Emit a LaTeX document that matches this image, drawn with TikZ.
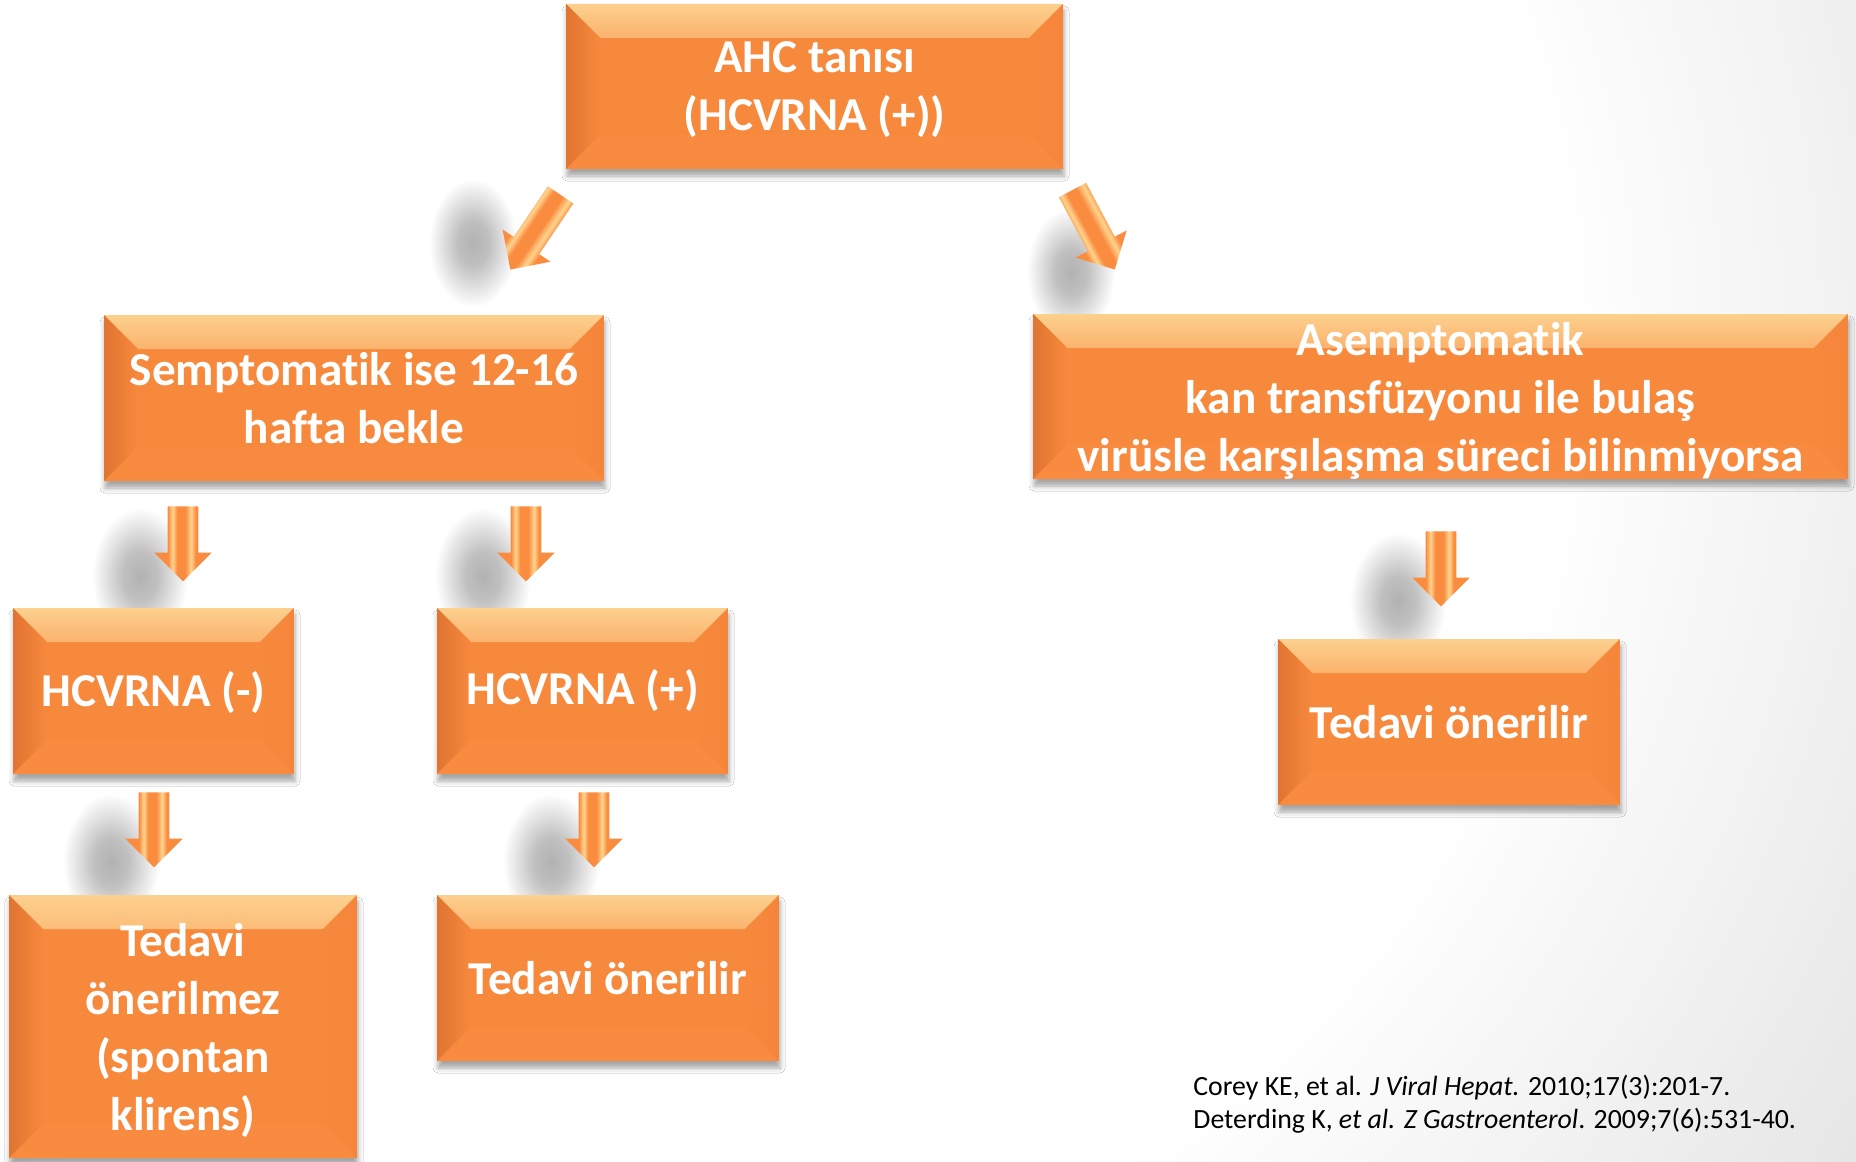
\documentclass[tikz,border=0pt]{standalone}
\usepackage{fontspec}
\setmainfont{Carlito}[Ligatures=NoCommon]
\usetikzlibrary{shapes.arrows,shadows.blur,fadings}

\definecolor{boxorange}{HTML}{F7893D}
\definecolor{bevtop}{HTML}{FDD08E}
\definecolor{bevleft}{HTML}{E07431}
\definecolor{bevright}{HTML}{F4853A}
\definecolor{bevbot}{HTML}{F88B40}
\definecolor{arrorange}{HTML}{FA8C40}
\definecolor{arrlight}{HTML}{FFD48E}

\pgfdeclareradialshading{slidebg}{\pgfpoint{0bp}{0bp}}{color(0bp)=(white); color(16bp)=(white); color(25bp)=(black!10); color(50bp)=(black!10)}
\pgfdeclareverticalshading{toplight}{100bp}{color(0bp)=(boxorange); color(25bp)=(boxorange); color(55bp)=(boxorange!80!bevtop); color(75bp)=(bevtop); color(100bp)=(bevtop)}
\pgfdeclareverticalshading{arrowshade}{100bp}{color(0bp)=(arrorange); color(37bp)=(arrorange); color(41bp)=(arrlight); color(45bp)=(arrorange); color(52bp)=(arrorange); color(57bp)=(arrlight); color(61bp)=(arrorange); color(100bp)=(arrorange)}
\pgfdeclareradialshading{spotshade}{\pgfpoint{0bp}{0bp}}{color(0bp)=(white); color(9bp)=(white!82!black); color(25bp)=(black); color(50bp)=(black)}
\pgfdeclarefading{softspot}{\pgfuseshading{spotshade}}

\newcommand{\boxfont}{\bfseries\fontsize{23.6}{29}\selectfont}
\newcommand{\citefont}{\fontsize{13.9}{16.5}\selectfont}
\newcommand{\bev}{17pt}

\tikzset{
  slidebox/.style={rectangle, fill=boxorange, text=white, font=\boxfont, align=center, inner sep=0pt,
    blur shadow={shadow xshift=0.5pt, shadow yshift=-3.5pt, shadow blur radius=2.5pt, shadow opacity=35},
    path picture={
      \shade[shading=toplight]
        (path picture bounding box.north west) -- (path picture bounding box.north east)
        -- ([xshift=-\bev,yshift=-\bev]path picture bounding box.north east)
        -- ([xshift=\bev,yshift=-\bev]path picture bounding box.north west) -- cycle;
      \shade[left color=bevleft, right color=boxorange]
        (path picture bounding box.north west) -- ([xshift=\bev,yshift=-\bev]path picture bounding box.north west)
        -- ([xshift=\bev,yshift=\bev]path picture bounding box.south west)
        -- (path picture bounding box.south west) -- cycle;
      \shade[left color=boxorange, right color=bevright]
        (path picture bounding box.north east) -- (path picture bounding box.south east)
        -- ([xshift=-\bev,yshift=\bev]path picture bounding box.south east)
        -- ([xshift=-\bev,yshift=-\bev]path picture bounding box.north east) -- cycle;
      \fill[bevbot]
        (path picture bounding box.south west) -- (path picture bounding box.south east)
        -- ([xshift=-\bev,yshift=\bev]path picture bounding box.south east)
        -- ([xshift=\bev,yshift=\bev]path picture bounding box.south west) -- cycle;
    }},
  blockarrow/.style={single arrow, inner xsep=0pt, inner ysep=7.5pt, single arrow head extend=6.75pt,
    shade, shading=arrowshade, anchor=tip},
  arrowshadow/.style={black, opacity=0.3, path fading=softspot}
}

\begin{document}
\begin{tikzpicture}[x=0.5pt, y=-0.5pt]
    \useasboundingbox (0,0) rectangle (1856,1161);

    % slide background
    \begin{scope}
        \clip (0,0) rectangle (1856,1161);
        \shade[shading=slidebg] (600,350) circle (750pt);
    \end{scope}

    % block arrows with their soft shadows
    \foreach \nm/\x/\y/\ang/\len/\sx/\sy/\rx/\ry in {
        adl/510/270/236/45/-37/-27/22/32,
        adr/1115/270/298/45/-44/2/22/32,
        a1/183/582/270/37.5/-43/-6/24/34,
        a2/526/582/270/37.5/-43/-6/24/34,
        a3/154/868/270/37.5/-43/-6/24/34,
        a4/594/868/270/37.5/-43/-6/24/34,
        a5/1441/607/270/37.5/-43/-6/24/34} {
        \fill[arrowshadow] (\x+\sx,\y+\sy) ellipse [x radius=\rx pt, y radius=\ry pt];
        \node[blockarrow, rotate=\ang, shading angle=\ang, minimum height=\len pt] (\nm) at (\x,\y) {};
    }

    % boxes
    \node[slidebox, text depth=0pt, minimum width=248.5pt, minimum height=82.5pt] (ahc) at (814.5,86.5) {AHC tanısı\\(HCVRNA (+))};
    \node[slidebox, minimum width=250pt, minimum height=83pt] (sempt) at (354,398) {Semptomatik ise 12-16\\hafta bekle};
    \node[slidebox, text depth=0pt, minimum width=407.5pt, minimum height=82.5pt] (asempt) at (1440.5,396.5)
        {Asemptomatik\\kan transfüzyonu ile bulaş\\virüsle karşılaşma süreci bilinmiyorsa};
    \node[slidebox, text depth=2.5pt, minimum width=140.5pt, minimum height=83pt] (neg) at (153.5,691) {HCVRNA (-)};
    \node[slidebox, minimum width=145.5pt, minimum height=83pt] (pos) at (582.5,691) {HCVRNA (+)};
    \node[slidebox, minimum width=171pt, minimum height=83pt] (rtreat) at (1449,722) {Tedavi önerilir};
    \node[slidebox, text depth=0pt, minimum width=174pt, minimum height=131.5pt] (notreat) at (183,1026.5)
        {Tedavi\\önerilmez\\(spontan\\klirens)};
    \node[slidebox, minimum width=171pt, minimum height=83pt] (ptreat) at (608,978) {Tedavi önerilir};

    % references
    \node[font=\citefont, align=left, anchor=north west, inner sep=0pt] (refs) at (1193,1075)
        {Corey KE, et al. \textit{J Viral Hepat.} 2010;17(3):201-7.\\Deterding K, \textit{et al. Z Gastroenterol}. 2009;7(6):531-40.};
\end{tikzpicture}
\end{document}
